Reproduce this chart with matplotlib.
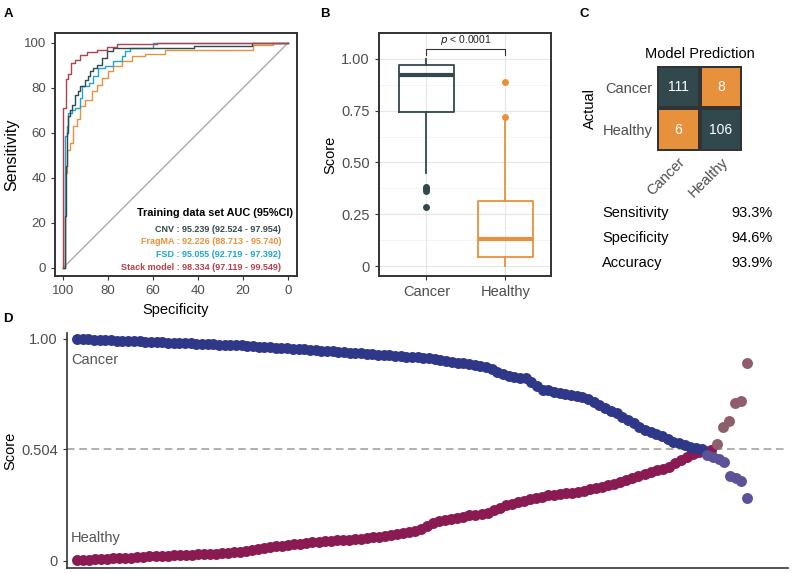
import numpy as np
import matplotlib.pyplot as plt
from matplotlib.colors import ListedColormap

plt.rcParams['font.family'] = ['Liberation Sans', 'DejaVu Sans']

# colours
dark = '#31484D'
orange = '#E8913C'
cyan = '#1CA6CE'
red = '#B5404B'
navy = '#2E3788'
maroon = '#8A1A52'
navy_wrong = '#5B5298'
maroon_wrong = '#8F5E6D'
txt_gray = '#4D4D4D'

# A: ROC curves (specificity, sensitivity corner points)
cnv_spec = [100, 99.1, 98.8, 98.4, 97.6, 96.9, 96.1, 94.7, 93.2, 92.4, 90.2, 89.0, 88.0, 86.5, 85.0, 82.8, 80.6, 77.6, 42.0, 16.0, 0]
cnv_sens = [0, 23.0, 45.2, 60.0, 67.4, 70.0, 72.6, 77.0, 78.5, 80.7, 83.7, 85.2, 87.4, 88.9, 90.4, 93.3, 96.3, 97.8, 98.7, 100, 100]
frag_spec = [100, 99.1, 98.4, 96.9, 95.4, 93.9, 92.4, 90.2, 87.3, 85.0, 82.8, 79.9, 77.6, 73.9, 69.5, 63.6, 54.7, 15.4, 6.5, 0]
frag_sens = [0, 42.2, 52.6, 55.6, 63.0, 66.0, 71.9, 74.8, 78.5, 81.5, 84.5, 87.4, 89.6, 91.9, 94.1, 95.2, 97.0, 99.0, 100, 100]
fsd_spec = [100, 99.1, 98.4, 97.6, 96.1, 94.7, 92.4, 91.7, 88.7, 86.5, 84.3, 81.3, 77.6, 73.9, 72.4, 70.2, 60.0, 0]
fsd_sens = [0, 58.5, 63.0, 68.9, 70.0, 71.1, 75.6, 80.7, 82.2, 85.2, 88.9, 89.6, 91.9, 94.1, 96.3, 97.8, 100, 100]
stack_spec = [100, 99.85, 98.8, 97.6, 96.6, 94.7, 92.4, 89.5, 85.0, 80.6, 76.0, 58.4, 0]
stack_sens = [0, 71.0, 84.0, 86.0, 91.0, 92.4, 94.7, 96.0, 97.0, 98.4, 99.5, 100, 100]
auc_labels = ['CNV : 95.239 (92.524 - 97.954)',
              'FragMA : 92.226 (88.713 - 95.740)',
              'FSD : 95.055 (92.719 - 97.392)',
              'Stack model : 98.334 (97.119 - 99.549)']

# C: confusion matrix
conf = [[111, 8], [6, 106]]
classes = ['Cancer', 'Healthy']
metrics = ['Sensitivity', 'Specificity', 'Accuracy']
metric_vals = ['93.3%', '94.6%', '93.9%']

# B / D: stacked model scores, sorted
cancer_scores = [
    0.999, 0.998, 0.998, 0.997, 0.996, 0.995, 0.994, 0.993, 0.992, 0.991,
    0.990, 0.989, 0.988, 0.987, 0.986, 0.985, 0.984, 0.983, 0.982, 0.981,
    0.980, 0.979, 0.978, 0.977, 0.976, 0.975, 0.974, 0.973, 0.972, 0.971,
    0.969, 0.968, 0.966, 0.964, 0.963, 0.961, 0.960, 0.958, 0.956, 0.954,
    0.953, 0.951, 0.949, 0.948, 0.946, 0.945, 0.943, 0.941, 0.939, 0.937,
    0.935, 0.933, 0.931, 0.929, 0.928, 0.926, 0.924, 0.923, 0.921, 0.920,
    0.918, 0.916, 0.914, 0.911, 0.907, 0.902, 0.898, 0.894, 0.890, 0.886,
    0.882, 0.878, 0.874, 0.866, 0.852, 0.840, 0.835, 0.830, 0.826, 0.822,
    0.805, 0.787, 0.772, 0.768, 0.763, 0.758, 0.752, 0.748, 0.745, 0.738,
    0.728, 0.716, 0.702, 0.690, 0.677, 0.665, 0.650, 0.635, 0.620, 0.604,
    0.590, 0.580, 0.570, 0.562, 0.550, 0.538, 0.530, 0.522, 0.514, 0.509, 0.505,
    0.477, 0.468, 0.460, 0.447, 0.383, 0.373, 0.360, 0.284]
healthy_scores = [
    0.002, 0.004, 0.005, 0.007, 0.008, 0.010, 0.011, 0.013, 0.014, 0.015,
    0.017, 0.018, 0.020, 0.021, 0.023, 0.024, 0.025, 0.026, 0.027, 0.028,
    0.030, 0.031, 0.032, 0.033, 0.035, 0.036, 0.038, 0.039, 0.043, 0.049,
    0.055, 0.060, 0.063, 0.066, 0.069, 0.072, 0.075, 0.078, 0.081, 0.085,
    0.086, 0.088, 0.090, 0.092, 0.094, 0.096, 0.098, 0.100, 0.103, 0.106,
    0.109, 0.113, 0.118, 0.123, 0.127, 0.130, 0.134, 0.145, 0.158, 0.170,
    0.178, 0.185, 0.190, 0.195, 0.200, 0.205, 0.209, 0.213, 0.216, 0.228,
    0.240, 0.250, 0.258, 0.266, 0.272, 0.278, 0.284, 0.290, 0.295, 0.299,
    0.302, 0.305, 0.308, 0.311, 0.316, 0.322, 0.328, 0.334, 0.340, 0.347,
    0.355, 0.365, 0.375, 0.383, 0.392, 0.400, 0.408, 0.415, 0.425, 0.440,
    0.455, 0.468, 0.480, 0.490, 0.497, 0.502,
    0.527, 0.604, 0.630, 0.710, 0.720, 0.890]
threshold = 0.504

W, H = 794, 573
fig = plt.figure(figsize=(W / 100, H / 100), dpi=100)


def px_axes(x0, y0, x1, y1):
    return fig.add_axes([x0 / W, 1 - y1 / H, (x1 - x0) / W, (y1 - y0) / H])


def frame(ax, lw=1.4):
    for s in ax.spines.values():
        s.set_color('#333333')
        s.set_linewidth(lw)
    ax.tick_params(colors='#333333', labelcolor=txt_gray, length=3, width=0.8)


# ---- A
ax1 = px_axes(55, 33, 297, 276)
ax1.plot([100, 0], [0, 100], color='#AAAAAA', lw=1.0)
ax1.step(frag_spec, frag_sens, where='post', color=orange, lw=1.0)
ax1.step(fsd_spec, fsd_sens, where='post', color=cyan, lw=1.0)
ax1.step(cnv_spec, cnv_sens, where='post', color=dark, lw=1.0)
ax1.step(stack_spec, stack_sens, where='post', color=red, lw=1.0)
ax1.set_xlim(103.6, -4)
ax1.set_ylim(-3.6, 104.4)
ax1.set_xticks([100, 80, 60, 40, 20, 0])
ax1.set_yticks([0, 20, 40, 60, 80, 100])
ax1.tick_params(labelsize=9.5)
frame(ax1)
ax1.set_xlabel('Specificity', fontsize=10.5, labelpad=4)
ax1.set_ylabel('Sensitivity', fontsize=11.5, labelpad=3)
ax1.text(0.983, 0.259, 'Training data set AUC (95%CI)', transform=ax1.transAxes,
         ha='right', va='center', fontsize=7.8, fontweight='bold', color='black')
for lab, col, yy in zip(auc_labels, [dark, orange, cyan, red], [0.193, 0.144, 0.088, 0.037]):
    ax1.text(0.934, yy, lab, transform=ax1.transAxes, ha='right', va='center',
             fontsize=6.5, fontweight='bold', color=col)

# ---- B
ax2 = px_axes(379, 33, 551, 276)
bp = ax2.boxplot([cancer_scores, healthy_scores], positions=[1, 2], widths=0.7,
                 showcaps=False, whis=1.5, patch_artist=False)
for i, col in enumerate([dark, orange]):
    bp['boxes'][i].set(color=col, lw=1.3)
    bp['medians'][i].set(color=col, lw=3)
    for w in bp['whiskers'][2 * i:2 * i + 2]:
        w.set(color=col, lw=1.3)
    bp['fliers'][i].set(marker='o', markerfacecolor=col, markeredgecolor='none', markersize=5)
ax2.set_xlim(0.4, 2.58)
ax2.set_ylim(-0.048, 1.115)
ax2.set_yticks([0, 0.25, 0.5, 0.75, 1.0])
ax2.set_yticklabels(['0', '0.25', '0.50', '0.75', '1.00'])
ax2.set_yticks([0.125, 0.375, 0.625, 0.875, 1.125], minor=True)
ax2.set_xticks([1, 2])
ax2.set_xticklabels(classes)
ax2.tick_params(labelsize=10.5)
ax2.tick_params(which='minor', length=0)
ax2.grid(True, which='major', color='#E6E6E6', lw=0.8)
ax2.grid(True, which='minor', axis='y', color='#F0F0F0', lw=0.5)
ax2.set_axisbelow(True)
frame(ax2)
ax2.set_ylabel('Score', fontsize=10.5, labelpad=3)
ax2.plot([1, 1, 2, 2], [1.02, 1.048, 1.048, 1.02], color='#333333', lw=0.8)
ax2.text(1.5, 1.056, r'$p$ < 0.0001', ha='center', va='bottom', fontsize=7.5, color='#222222')

# ---- C
ax3 = px_axes(657, 66, 742, 151)
mask = np.eye(2)
ax3.pcolormesh(mask, cmap=ListedColormap([orange, dark]), edgecolors='#333333', linewidth=1.5)
ax3.set_xlim(0, 2)
ax3.set_ylim(2, 0)
for r in range(2):
    for c in range(2):
        ax3.text(c + 0.5, r + 0.5, str(conf[r][c]), ha='center', va='center',
                 color='white', fontsize=10)
ax3.set_xticks([0.5, 1.5])
ax3.set_yticks([0.5, 1.5])
ax3.set_xticklabels(classes, rotation=45, ha='right', va='top', rotation_mode='anchor')
ax3.set_yticklabels(classes)
ax3.tick_params(length=0, labelsize=10.5, labelcolor=txt_gray, pad=3)
for s in ax3.spines.values():
    s.set_visible(False)
ax3.set_title('Model Prediction', fontsize=10.5, pad=6)
ax3.set_ylabel('Actual', fontsize=10.5, labelpad=4)
for k, (m, v) in enumerate(zip(metrics, metric_vals)):
    yy = 1 - (213 + 25 * k) / H
    fig.text(602 / W, yy, m, ha='left', va='center', fontsize=10.5)
    fig.text(773 / W, yy, v, ha='right', va='center', fontsize=10.5)

# ---- D
ax4 = px_axes(67, 333, 788, 568)
cancer_arr = np.array(cancer_scores)
healthy_arr = np.array(healthy_scores)
xc = np.linspace(0, 1, len(cancer_arr))
xh = np.linspace(0, 1, len(healthy_arr))
ok_c = cancer_arr >= threshold
ok_h = healthy_arr < threshold
ax4.axhline(threshold, color='#9A9A9A', lw=1.1, ls=(0, (5, 3)), zorder=1)
ax4.scatter(xh[ok_h], healthy_arr[ok_h], s=62, color=maroon, lw=0, zorder=3)
ax4.scatter(xc[ok_c], cancer_arr[ok_c], s=62, color=navy, lw=0, zorder=3)
ax4.scatter(xh[~ok_h], healthy_arr[~ok_h], s=62, color=maroon_wrong, lw=0, zorder=3)
ax4.scatter(xc[~ok_c], cancer_arr[~ok_c], s=62, color=navy_wrong, lw=0, zorder=3)
ax4.set_xlim(-0.015, 1.061)
ax4.set_ylim(-0.032, 1.027)
ax4.set_xticks([])
ax4.set_yticks([0, threshold, 1.0])
ax4.set_yticklabels(['0', '0.504', '1.00'])
ax4.spines['top'].set_visible(False)
ax4.spines['right'].set_visible(False)
for s in ['left', 'bottom']:
    ax4.spines[s].set_color('#333333')
    ax4.spines[s].set_linewidth(1.2)
ax4.tick_params(axis='y', colors='#333333', labelcolor=txt_gray, labelsize=10.5, length=3)
ax4.set_ylabel('Score', fontsize=10.5, labelpad=3)
ax4.text(-0.009, 0.905, 'Cancer', ha='left', va='center', fontsize=10.5, color='#555555')
ax4.text(-0.009, 0.104, 'Healthy', ha='left', va='center', fontsize=10.5, color='#555555')

# panel letters
for lab, x, y in [('A', 8, 14), ('B', 325, 14), ('C', 584, 14), ('D', 8, 319)]:
    fig.text(x / W, 1 - y / H, lab, ha='center', va='center', fontsize=9.5, fontweight='bold')

fig.savefig('out.png', dpi=100)
